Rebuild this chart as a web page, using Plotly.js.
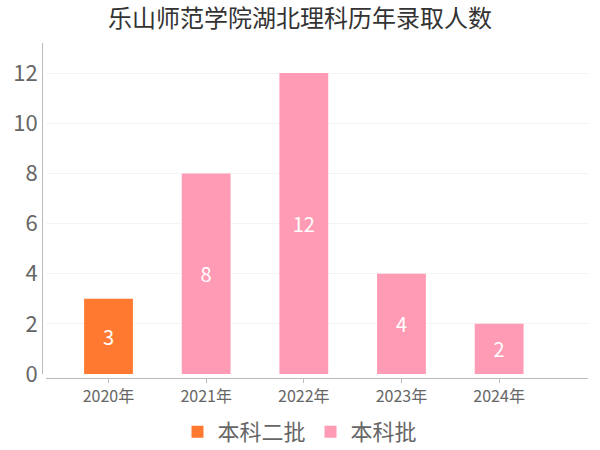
<!DOCTYPE html>
<html>
<head>
<meta charset="utf-8">
<script src="https://cdn.plot.ly/plotly-3.0.1.min.js"></script>
<style>
    html, body { margin: 0; padding: 0; background: #ffffff; }
    #chart { width: 600px; height: 450px; }
</style>
</head>
<body>
<div id="chart"></div>
<script>
// 录取数据
const years = ["2020年", "2021年", "2022年", "2023年", "2024年"];
const batchTwoYears = ["2020年"];
const batchTwoValues = [3];
const batchYears = ["2021年", "2022年", "2023年", "2024年"];
const batchValues = [8, 12, 4, 2];
const seriesNames = ["本科二批", "本科批"];

const FONT = "'Noto Sans CJK SC', 'Noto Sans', sans-serif";

function buildTrace(x, y, name, color) {
    return {
        x,
        y,
        name,
        type: "bar",
        width: 0.5,
        marker: { color },
        text: y.map(String),
        textposition: "inside",
        insidetextanchor: "middle",
        textfont: { color: "#ffffff", size: 20, family: FONT },
        hoverinfo: "x+y+name"
    };
}

const data = [
    buildTrace(batchTwoYears, batchTwoValues, seriesNames[0], "#FF7A30"),
    buildTrace(batchYears, batchValues, seriesNames[1], "#FF9BB5")
];

const layout = {
    width: 600,
    height: 450,
    paper_bgcolor: "#ffffff",
    plot_bgcolor: "#ffffff",
    font: { family: FONT, color: "#666666" },
    margin: { t: 43, b: 72, l: 42, r: 12, autoexpand: false },
    barmode: "overlay",
    showlegend: true,
    title: {
        text: "乐山师范学院湖北理科历年录取人数",
        font: { size: 24, color: "#333333", family: FONT },
        x: 0.5,
        xanchor: "center",
        xref: "container",
        y: 0.958,
        yanchor: "middle"
    },
    xaxis: {
        type: "category",
        categoryorder: "array",
        categoryarray: years,
        range: [-0.64, 4.91],
        domain: [4 / 546, 1],
        anchor: "free",
        position: 0,
        showline: true,
        linecolor: "#bbbbbb",
        linewidth: 1,
        ticks: "outside",
        ticklen: 4,
        tickcolor: "#bbbbbb",
        tickfont: { size: 16, color: "#666666" },
        showgrid: false,
        zeroline: false
    },
    yaxis: {
        range: [0, 13.2],
        domain: [4 / 335, 1],
        anchor: "free",
        position: 0,
        dtick: 2,
        showline: true,
        linecolor: "#bbbbbb",
        linewidth: 1,
        ticks: "",
        tickfont: { size: 22, color: "#666666" },
        gridcolor: "#f4f4f4",
        zeroline: false
    },
    legend: {
        orientation: "h",
        xref: "container",
        x: 0.5,
        xanchor: "center",
        y: -0.161,
        yanchor: "middle",
        font: { size: 22, color: "#666666" },
        itemwidth: 30,
        tracegroupgap: 0,
        traceorder: "normal"
    }
};

Plotly.newPlot("chart", data, layout, { displayModeBar: false, staticPlot: true });
</script>
</body>
</html>
